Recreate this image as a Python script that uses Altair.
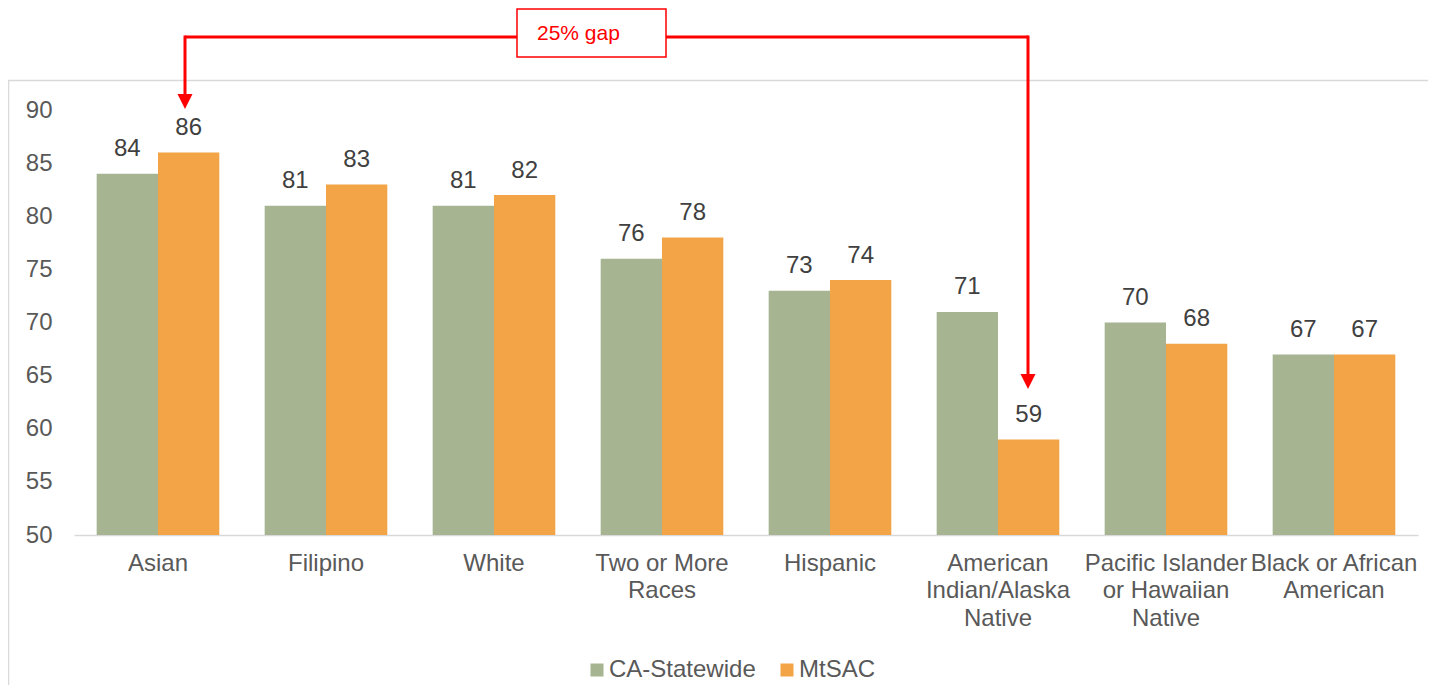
import altair as alt
import pandas as pd

categories = [
    "Asian",
    "Filipino",
    "White",
    "Two or More Races",
    "Hispanic",
    "American Indian/Alaska Native",
    "Pacific Islander or Hawaiian Native",
    "Black or African American",
]
category_lines = [
    ["Asian"],
    ["Filipino"],
    ["White"],
    ["Two or More", "Races"],
    ["Hispanic"],
    ["American", "Indian/Alaska", "Native"],
    ["Pacific Islander", "or Hawaiian", "Native"],
    ["Black or African", "American"],
]
series_names = ["CA-Statewide", "MtSAC"]
statewide = [84, 81, 81, 76, 73, 71, 70, 67]
mtsac = [86, 83, 82, 78, 74, 59, 68, 67]
series_colors = ["#A6B491", "#F2A446"]
y_min, y_max = 50, 90
y_ticks = [50, 55, 60, 65, 70, 75, 80, 85, 90]
annotation_text = "25% gap"

rows = []
for c, a, b in zip(categories, statewide, mtsac):
    rows.append({"category": c, "series": series_names[0], "value": a})
    rows.append({"category": c, "series": series_names[1], "value": b})
df = pd.DataFrame(rows)

# multi-line label expression
expr = "datum.value"
for c, lines in reversed(list(zip(categories, category_lines))):
    arr = "[" + ",".join("'" + l + "'" for l in lines) + "]"
    expr = f"datum.value == '{c}' ? {arr} : ({expr})"

FONT = "Liberation Sans"
RED = "#FF0000"
one = pd.DataFrame({"k": [0]})

x_enc = alt.X(
    "category:N",
    sort=categories,
    scale=alt.Scale(paddingInner=0.27, paddingOuter=0.135),
    axis=alt.Axis(
        title=None,
        labelAngle=0,
        labelExpr=expr,
        labelFontSize=24,
        labelColor="#595959",
        labelPadding=16,
        labelLineHeight=27.5,
        labelBaseline="top",
        labelLimit=400,
        labelOverlap=False,
        labelBound=False,
        ticks=False,
        domainColor="#D9D9D9",
        domainWidth=1.5,
        grid=False,
    ),
)
y_enc = alt.Y(
    "value:Q",
    scale=alt.Scale(domain=[y_min, y_max], nice=False, zero=False),
    axis=alt.Axis(
        title=None,
        values=y_ticks,
        labelFontSize=24,
        labelColor="#595959",
        labelPadding=22,
        ticks=False,
        domain=False,
        grid=False,
    ),
)
xoff = alt.XOffset("series:N", sort=series_names)

frame = alt.Chart(one).mark_rect(
    fillOpacity=0, stroke="#D9D9D9", strokeWidth=1.5
).encode(
    x=alt.value(-65.5), x2=alt.value(1500), y=alt.value(-29.5), y2=alt.value(700)
)

bars = alt.Chart(df).mark_bar().encode(
    x=x_enc,
    y=y_enc,
    y2=alt.datum(y_min),
    xOffset=xoff,
    color=alt.Color(
        "series:N",
        sort=series_names,
        scale=alt.Scale(domain=series_names, range=series_colors),
        legend=alt.Legend(
            title=None,
            orient="none",
            legendX=511,
            legendY=548,
            direction="horizontal",
            symbolType="square",
            symbolSize=169,
            symbolStrokeWidth=0,
            symbolOpacity=1,
            labelFontSize=24,
            labelColor="#595959",
            labelFont=FONT,
            labelOffset=0,
            columnPadding=19,
            padding=0,
        ),
    ),
)

labels = alt.Chart(df).mark_text(
    baseline="alphabetic", dy=-17.5, fontSize=24, color="#404040", font=FONT
).encode(
    x=alt.X("category:N", sort=categories),
    y="value:Q",
    xOffset=xoff,
    text="value:Q",
)

hline = alt.Chart(one).mark_rule(color=RED, strokeWidth=3).encode(
    x=alt.value(111), x2=alt.value(954), y=alt.value(-73)
)
vleft = alt.Chart(one).mark_rule(color=RED, strokeWidth=3).encode(
    x=alt.value(111), y=alt.value(-74.5), y2=alt.value(-15)
)
vright = alt.Chart(one).mark_rule(color=RED, strokeWidth=3).encode(
    x=alt.value(954), y=alt.value(-74.5), y2=alt.value(265)
)
tri = "M-1,-1L1,-1L0,1Z"
head_left = alt.Chart(one).mark_point(
    shape=tri, filled=True, color=RED, opacity=1, size=225, strokeWidth=0
).encode(x=alt.value(111), y=alt.value(-8.5))
head_right = alt.Chart(one).mark_point(
    shape=tri, filled=True, color=RED, opacity=1, size=225, strokeWidth=0
).encode(x=alt.value(954), y=alt.value(271.5))

box = alt.Chart(one).mark_rect(fill="white", stroke=RED, strokeWidth=1.5).encode(
    x=alt.value(443), x2=alt.value(592), y=alt.value(-101), y2=alt.value(-53)
)
box_text = alt.Chart(one).mark_text(
    align="left", baseline="alphabetic", fontSize=21, color=RED, font=FONT
).encode(x=alt.value(463), y=alt.value(-70), text=alt.value(annotation_text))

chart = (
    alt.layer(frame, bars, labels, hline, vleft, vright, head_left, head_right, box, box_text)
    .properties(
        width=1344,
        height=425,
        padding={"left": 66, "top": 102, "right": 10, "bottom": 150},
        autosize=alt.AutoSizeParams(type="none"),
        background="white",
    )
    .configure(font=FONT)
    .configure_view(strokeWidth=0, stroke="transparent")
)

chart.save("out.html", embed_options={"renderer": "svg", "actions": False})
